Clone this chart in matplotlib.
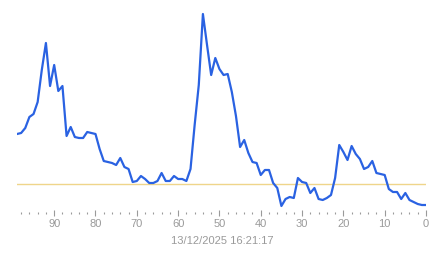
import matplotlib
matplotlib.use("Agg")
import numpy as np
import matplotlib.pyplot as plt
from matplotlib.ticker import MultipleLocator

# minutes ago (left = oldest) and the measured value at each step
minutes_ago = list(range(99, -1, -1))
values = [76, 77, 82, 93, 96, 108, 140, 167, 124, 145,
          119, 124, 74, 83, 73, 72, 72, 78, 77, 76,
          61, 49, 48, 47, 45, 52, 43, 41, 28, 29,
          34, 31, 27, 27, 29, 37, 29, 29, 34, 31,
          31, 29, 41, 85, 125, 196, 165, 135, 152, 141,
          135, 136, 118, 94, 63, 70, 57, 48, 47, 35,
          40, 40, 27, 22, 4, 11, 13, 12, 32, 28,
          27, 17, 22, 11, 10, 12, 15, 32, 65, 58,
          50, 64, 56, 51, 41, 43, 49, 37, 36, 35,
          21, 18, 18, 11, 17, 10, 8, 6, 5, 5]
threshold = 26
timestamp = "13/12/2025 16:21:17"

W, H = 443, 258
fig = plt.figure(figsize=(W / 100, H / 100), dpi=100)
ax = fig.add_axes([17 / W, (H - 213) / H, (426 - 17) / W, 208 / H])

ax.plot(minutes_ago, values, color="#2a62e2", linewidth=1.6, solid_joinstyle="round")
ax.axhline(threshold, color="#efd58a", linewidth=1.0, zorder=1)

ax.set_xlim(99, 0)
ax.set_ylim(-3, 205)

for s in ax.spines.values():
    s.set_visible(False)
ax.set_yticks([])
ax.xaxis.set_major_locator(MultipleLocator(10))
ax.xaxis.set_minor_locator(MultipleLocator(2))
ax.tick_params(axis="x", which="major", direction="inout", length=5, width=0.8,
               color="#9a9a9a", labelcolor="#9a9a9a", labelsize=8, pad=2)
ax.tick_params(axis="x", which="minor", direction="inout", length=2, width=0.8,
               color="#9a9a9a")
for lbl in ax.get_xticklabels():
    lbl.set_fontfamily("Liberation Sans")

fig.text(222 / W, 1 - 241 / H, timestamp, ha="center", va="center",
         fontsize=8, color="#9a9a9a", family="Liberation Sans")

fig.savefig("out.png", dpi=100)
